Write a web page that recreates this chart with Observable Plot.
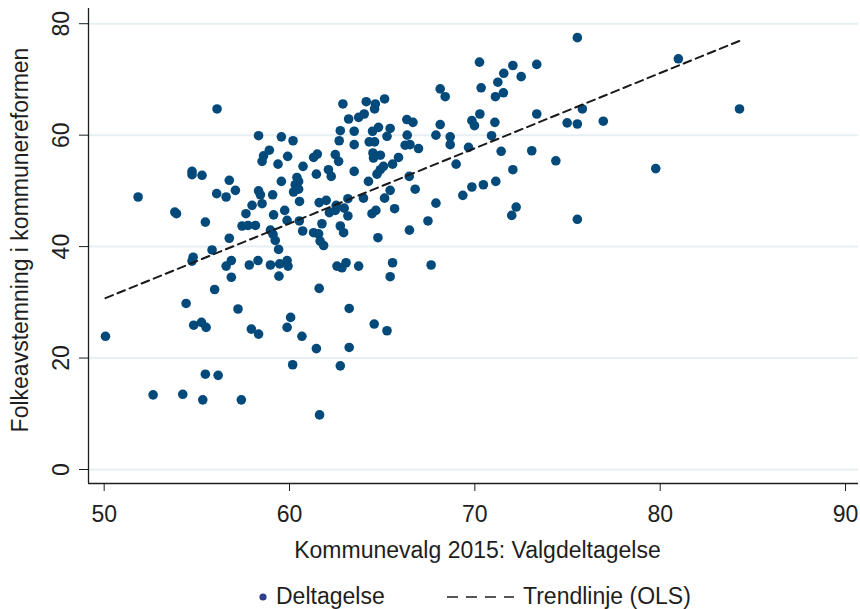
<!DOCTYPE html>
<html>
<head>
<meta charset="utf-8">
<script src="https://cdn.jsdelivr.net/npm/d3@7"></script>
<script src="https://cdn.jsdelivr.net/npm/@observablehq/plot@0.6"></script>
<style>
  html, body { margin: 0; padding: 0; background: #fff; }
  #wrap { width: 860px; position: relative; font-family: "Liberation Sans", Arial, sans-serif; }
  #legend { position: relative; width: 860px; height: 34px; color: #1e1e1e; font-size: 23px; }
  #legend span, #legend svg { position: absolute; }
</style>
</head>
<body>
<div id="wrap">
  <div id="chart"></div>
  <div id="legend"></div>
</div>
<script>
// Kommunevalg 2015: Valgdeltagelse (x) and Folkeavstemning i kommunereformen (y)
const valgdeltagelse = [
  56.09, 58.33, 59.56, 60.19, 58.91, 58.6, 59.9, 61.3, 61.5,
  70.25, 72.05, 71.56, 72.5, 71.24, 73.34, 68.13, 68.4, 70.34, 71.54, 71.11,
  62.88, 64.14, 64.63, 64.59, 65.13, 63.19, 63.73, 64.03, 66.33, 66.66,
  68.13, 69.84, 69.98, 70.27, 71.08, 73.34, 62.74, 63.49, 62.68, 64.8,
  64.48, 65.43, 65.26, 66.35, 67.9, 68.67, 68.67, 63.49, 64.3, 64.59,
  66.24, 66.5, 66.96, 69.66, 70.9, 71.42, 73.07, 62.47, 64.5, 64.9, 65.88,
  75.53, 80.98, 84.28, 75.8, 74.98, 75.53, 76.93,
  51.83, 54.74, 54.74, 55.28, 53.81, 53.9, 55.46, 56.75, 56.07, 56.58,
  57.08, 56.75, 57.44, 57.76, 58.16, 57.65, 57.98, 58.33, 58.43, 58.52,
  59.09, 59.14, 58.97, 59.11, 59.23, 59.41, 55.82, 54.8, 54.74, 56.58,
  56.86, 57.83, 58.3, 58.97, 59.47, 59.87, 59.92, 56.86, 59.43, 55.96,
  58.52, 59.38, 60.73, 61.45, 59.56, 60.4, 60.49, 60.31, 60.22, 60.49,
  60.54, 61.6, 59.74, 59.87, 60.53, 60.71, 61.3, 61.57, 61.65,
  62.65, 62.1, 62.25, 63.49, 64.53, 65.56, 65.07, 64.9, 64.72, 64.26,
  65.43, 66.46, 66.78, 65.13, 63.99, 63.15, 61.98, 62.52, 62.15, 62.47,
  62.95, 63.15, 64.45, 64.66, 65.67, 67.9, 68.99, 69.35, 69.84, 70.46,
  71.13, 72.05, 72.23, 71.99, 61.75, 61.84, 62.74, 62.92, 64.77, 66.47,
  67.47, 62.56, 62.83, 63.05, 63.73, 65.56, 65.43, 67.64, 61.6,
  74.37, 79.76, 75.53,
  50.07, 54.42, 54.83, 55.25, 55.5, 57.22, 57.94, 58.33, 60.06, 59.87,
  60.67, 61.45, 60.17, 55.46, 56.15, 52.64, 54.24, 55.32, 57.4, 61.62,
  63.22, 64.57, 65.26, 63.22, 62.74
];
const folkeavstemning = [
  64.7, 59.9, 59.7, 59.0, 57.3, 56.3, 56.2, 56.0, 56.6,
  73.1, 72.5, 71.1, 70.5, 69.5, 72.7, 68.3, 66.9, 68.5, 67.6, 66.9,
  65.6, 66.0, 65.6, 64.7, 66.5, 62.9, 63.2, 63.8, 62.8, 62.3,
  61.9, 62.6, 61.7, 63.8, 62.3, 63.8, 60.8, 60.7, 59.0, 61.4,
  60.7, 61.2, 59.8, 60.0, 60.0, 59.7, 58.3, 58.3, 58.8, 58.8,
  58.2, 58.3, 57.6, 57.8, 59.9, 57.1, 57.2, 56.5, 56.8, 56.4, 56.0,
  77.5, 73.7, 64.7, 64.7, 62.2, 62.0, 62.5,
  48.9, 53.5, 52.9, 52.8, 46.2, 45.9, 44.4, 51.9, 49.5, 48.9,
  50.1, 41.5, 43.7, 43.8, 43.8, 45.9, 47.4, 50.0, 49.3, 47.7,
  49.3, 45.7, 42.95, 42.2, 41.1, 39.5, 39.4, 38.1, 37.4, 36.5,
  37.5, 36.7, 37.5, 36.7, 36.9, 37.5, 36.5, 34.5, 34.7, 32.3,
  55.3, 54.8, 54.4, 53.0, 51.7, 52.4, 51.7, 51.1, 49.8, 50.3,
  48.1, 47.9, 46.5, 44.7, 44.6, 42.8, 42.5, 42.3, 41.0,
  55.3, 53.8, 52.6, 53.5, 55.9, 54.8, 54.4, 53.8, 53.0, 51.7,
  50.1, 52.6, 50.3, 48.7, 48.7, 48.6, 48.3, 47.4, 46.1, 46.5,
  46.9, 45.5, 45.9, 46.5, 46.8, 47.8, 54.8, 49.2, 50.7, 51.1,
  51.7, 53.8, 47.1, 45.6, 44.1, 40.2, 43.7, 42.5, 41.6, 42.95,
  44.6, 36.5, 36.2, 37.1, 36.5, 37.1, 34.6, 36.7, 32.5,
  55.4, 54.0, 44.9,
  23.9, 29.8, 25.9, 26.4, 25.5, 28.8, 25.2, 24.3, 27.3, 25.5,
  23.9, 21.7, 18.8, 17.1, 16.9, 13.4, 13.5, 12.5, 12.5, 9.8,
  28.9, 26.1, 24.9, 21.9, 18.6
];
const xTicks = [50, 60, 70, 80, 90];
const yTicks = [0, 20, 40, 60, 80];
const xLabel = "Kommunevalg 2015: Valgdeltagelse";
const yLabel = "Folkeavstemning i kommunereformen";
const seriesNames = ["Deltagelse", "Trendlinje (OLS)"];

const data = valgdeltagelse.map((x, i) => ({x, y: folkeavstemning[i]}));

const xDomain = [49.154, 90.70];
const yDomain = [-2.512, 82.73];
const dotColor = "#034a7b";
const textColor = "#1e1e1e";

const chart = Plot.plot({
  width: 860,
  height: 575,
  marginLeft: 88,
  marginRight: 2,
  marginTop: 8,
  marginBottom: 92,
  style: {fontFamily: "'Liberation Sans', Arial, sans-serif", fontSize: "23px", color: textColor, background: "#fff"},
  x: {domain: xDomain},
  y: {domain: yDomain},
  marks: [
    Plot.ruleY(yTicks, {stroke: "#e6eff1", strokeWidth: 2}),
    Plot.ruleX([xDomain[0]], {stroke: "#1e1e1e", strokeWidth: 1.3}),
    Plot.ruleY([yDomain[0]], {stroke: "#1e1e1e", strokeWidth: 1.3}),
    Plot.axisX({ticks: xTicks, tickSize: 8, tickPadding: 14, label: null, stroke: "#1e1e1e", fill: textColor}),
    Plot.axisY({ticks: yTicks, tickSize: 9, tickFormat: () => "", label: null, stroke: "#1e1e1e"}),
    Plot.text(yTicks, {y: d => d, text: d => String(d), frameAnchor: "left", rotate: -90, dx: -20, textAnchor: "middle", lineAnchor: "bottom", fill: textColor}),
    Plot.text([xLabel], {frameAnchor: "bottom", lineAnchor: "top", dy: 58, dx: 4, fill: textColor}),
    Plot.text([yLabel], {frameAnchor: "left", rotate: -90, dx: -61, dy: -6, lineAnchor: "bottom", textAnchor: "middle", fill: textColor}),
    Plot.dot(data, {x: "x", y: "y", r: 4.8, fill: dotColor, stroke: "none"}),
    Plot.linearRegressionY(data, {x: "x", y: "y", ci: 0, stroke: "#1a1a1a", strokeWidth: 2, strokeDasharray: "8,5"})
  ]
});
document.getElementById("chart").append(chart);

const legend = document.getElementById("legend");
legend.innerHTML = `
  <svg style="left:258px;top:17px" width="12" height="12"><circle cx="5" cy="5" r="3.6" fill="#2c3e8c"></circle></svg>
  <span style="left:276px;top:8px">${seriesNames[0]}</span>
  <svg style="left:446px;top:20px" width="70" height="6"><line x1="1" y1="2" x2="68" y2="2" stroke="#1e1e1e" stroke-width="1.6" stroke-dasharray="11,8"></line></svg>
  <span style="left:523px;top:8px">${seriesNames[1]}</span>
`;
</script>
</body>
</html>
